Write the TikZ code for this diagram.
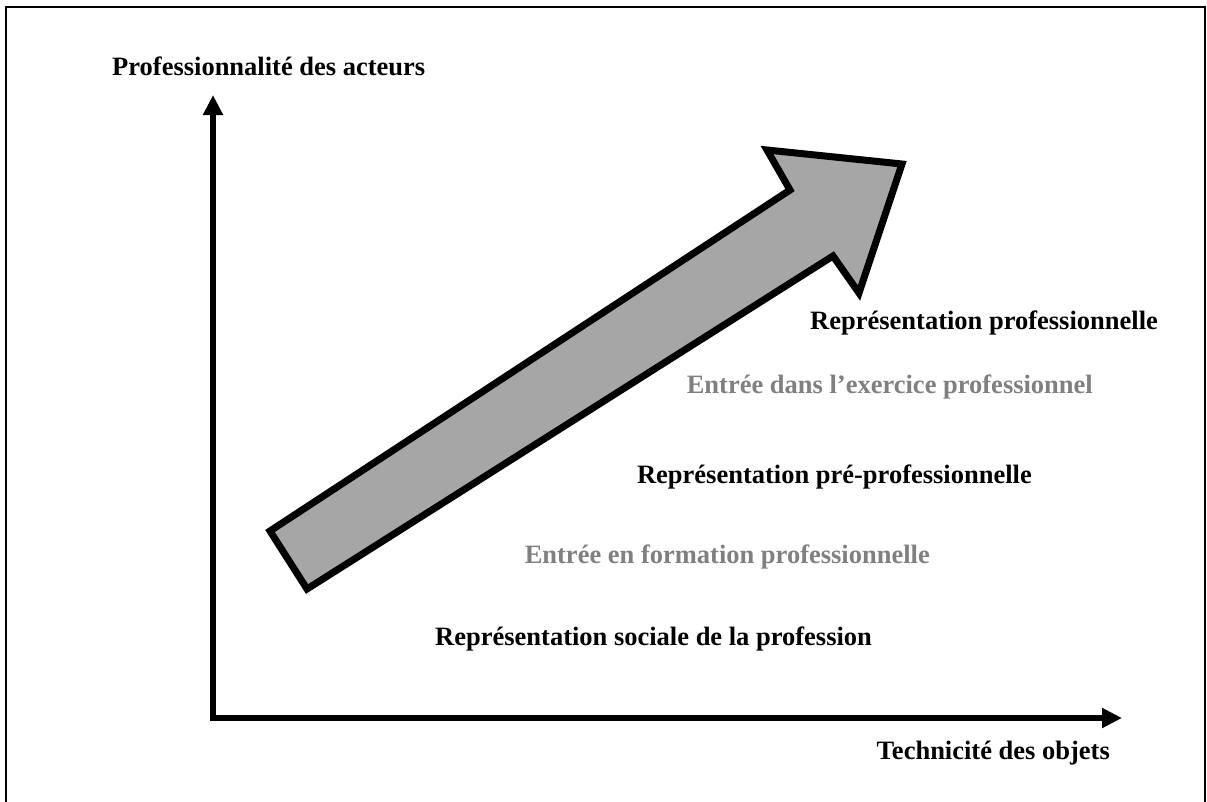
\documentclass[tikz,border=0pt]{standalone}
\usepackage{fontspec}
\setmainfont{Liberation Serif}
\usetikzlibrary{arrows.meta}
\definecolor{arrowgray}{HTML}{A6A6A6}
\definecolor{txtgray}{HTML}{808080}
\tikzset{
  lbl/.style={font=\fontsize{26.5}{30}\selectfont\bfseries, inner sep=0pt},
  lblgray/.style={lbl, text=txtgray},
  axis/.style={line width=5.5pt, -{Triangle[length=20pt,width=19pt]}},
  bigarrow/.style={draw=black, fill=arrowgray, line width=7pt, miter limit=10, line join=miter}
}
\begin{document}
\begin{tikzpicture}[x=1pt,y=-1pt]
\useasboundingbox (0,0) rectangle (1207,801);
% frame
\draw[line width=2pt] (6,803) -- (6,7) -- (1205,7) -- (1205,803);
% axes
\coordinate (O) at (213,718);
\coordinate (Ytop) at (213,95);
\coordinate (Xend) at (1122,718);
\draw[axis] ([yshift=2.75pt]O) -- (Ytop);
\draw[axis] ([xshift=-2.75pt]O) -- (Xend);
% big arrow
\coordinate (t1) at (270,531);
\coordinate (n1) at (790,190);
\coordinate (h1) at (767,150);
\coordinate (tip) at (902,164);
\coordinate (h2) at (859,293);
\coordinate (n2) at (833,256);
\coordinate (t2) at (307,589);
\draw[bigarrow] (t1) -- (n1) -- (h1) -- (tip) -- (h2) -- (n2) -- (t2) -- cycle;
% labels
\node[lbl, anchor=base west] (ylab) at (112,75) {Professionnalité des acteurs};
\node[lbl, anchor=base east] (xlab) at (1110,759) {Technicité des objets};
\node[lbl, anchor=base west] (rp) at (810,329) {Représentation professionnelle};
\node[lblgray, anchor=base east] (ed) at (1093,393) {Entrée dans l’exercice professionnel};
\node[lbl, anchor=base east] (rpp) at (1032,483) {Représentation pré-professionnelle};
\node[lblgray, anchor=base east] (ef) at (930,563) {Entrée en formation professionnelle};
\node[lbl, anchor=base west] (rs) at (435,645) {Représentation sociale de la profession};
\end{tikzpicture}
\end{document}
